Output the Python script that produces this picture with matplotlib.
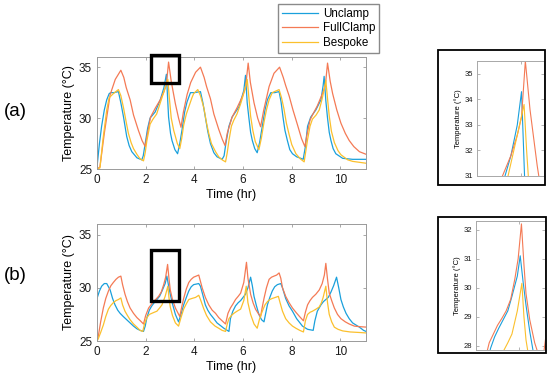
import matplotlib
matplotlib.use("Agg")
import matplotlib.pyplot as plt
from matplotlib.patches import Rectangle

plt.rcParams['font.family'] = ['Liberation Sans', 'DejaVu Sans']

# ---- colours ----
C_UN = '#1AA0DC'
C_FC = '#F47A55'
C_BE = '#FBC02D'

# ---- (a) top panel ----
a_un_t = [0.0, 0.1, 0.19, 0.3, 0.4, 0.5, 0.56, 0.7, 0.88, 0.98, 1.09, 1.22, 1.32, 1.43, 1.64, 1.84,
          1.9, 1.98, 2.08, 2.18, 2.39, 2.6, 2.75, 2.85, 2.9, 2.94, 3.02, 3.08, 3.2, 3.31,
          3.4, 3.49, 3.6, 3.7, 3.84, 4.0, 4.25, 4.35, 4.45, 4.55, 4.66, 4.8, 4.93, 5.14,
          5.22, 5.3, 5.42, 5.55, 5.83, 6.03, 6.1, 6.17, 6.24, 6.31, 6.38, 6.48, 6.58,
          6.68, 6.79, 6.9, 7.0, 7.14, 7.3, 7.48, 7.56, 7.64, 7.72, 7.82, 7.92, 8.03, 8.2, 8.37, 8.47,
          8.56, 8.65, 8.78, 8.99, 9.2, 9.29, 9.33, 9.4, 9.47, 9.54, 9.61, 9.7, 9.81, 10.09, 10.5, 11.1]
a_un_T = [25.2, 27.5, 29.2, 30.8, 31.8, 32.4, 32.5, 32.5, 32.6, 31.5, 30.1, 28.2, 27.3, 26.7, 26.1, 25.9,
          26.3, 27.5, 29.0, 30.0, 30.6, 31.8, 33.0, 34.3, 32.0, 30.1, 28.5, 27.8, 26.9, 26.5,
          27.5, 28.8, 30.6, 31.6, 32.5, 32.5, 32.6, 31.5, 30.1, 28.7, 27.5, 26.6, 26.2, 25.95,
          26.3, 27.6, 29.2, 30.1, 31.1, 32.7, 34.2, 31.5, 30.0, 28.6, 27.8, 27.0, 26.6,
          27.6, 29.2, 30.8, 31.8, 32.5, 32.5, 32.6, 31.6, 30.1, 28.8, 27.8, 26.9, 26.5, 26.2, 26.05, 25.95,
          27.2, 29.2, 30.1, 30.8, 31.8, 33.2, 34.1, 31.7, 30.0, 28.6, 27.8, 27.0, 26.5, 26.05, 25.95, 25.95]

a_fc_t = [0.0, 0.12, 0.3, 0.54, 0.75, 0.98, 1.1, 1.2, 1.36, 1.5, 1.7, 1.85, 1.98,
          2.05, 2.2, 2.4, 2.6, 2.75, 2.85, 2.94, 3.05, 3.22, 3.35, 3.45,
          3.55, 3.7, 3.85, 4.05, 4.25, 4.4, 4.5, 4.66, 4.8, 5.0, 5.15, 5.26,
          5.35, 5.55, 5.75, 5.97, 6.1, 6.21, 6.3, 6.45, 6.6, 6.72,
          6.85, 7.07, 7.27, 7.5, 7.65, 7.75, 7.89, 8.05, 8.24, 8.4, 8.54,
          8.62, 8.75, 8.85, 9.05, 9.26, 9.38, 9.47, 9.58, 9.68, 9.85, 10.02, 10.2, 10.36, 10.55, 10.78, 11.1]
a_fc_T = [25.0, 25.2, 28.5, 32.3, 33.8, 34.7, 34.0, 33.0, 31.8, 30.3, 28.8, 27.8, 27.2,
          28.2, 30.1, 31.0, 31.8, 32.6, 33.3, 35.5, 33.6, 31.4, 30.0, 29.1,
          30.6, 32.3, 33.5, 34.5, 35.0, 34.0, 33.1, 31.9, 30.4, 28.9, 27.9, 27.3,
          28.5, 30.1, 31.0, 32.1, 33.0, 35.4, 33.5, 31.5, 30.0, 29.15,
          30.8, 33.1, 34.4, 35.0, 34.0, 33.2, 32.2, 30.8, 29.3, 28.0, 27.2,
          28.3, 29.8, 30.3, 31.2, 32.4, 33.2, 35.4, 33.6, 32.4, 30.8, 29.5, 28.5, 27.8, 27.2, 26.7, 26.4]

a_be_t = [0.0, 0.12, 0.25, 0.4, 0.5, 0.67, 0.88, 0.98, 1.09, 1.2, 1.29, 1.4, 1.5, 1.65, 1.77, 1.91,
          1.98, 2.05, 2.18, 2.3, 2.45, 2.6, 2.75, 2.91, 2.97, 3.05, 3.15, 3.22, 3.3, 3.4,
          3.48, 3.56, 3.67, 3.77, 3.9, 3.97, 4.14, 4.25, 4.39, 4.5, 4.59, 4.7, 4.87, 5.0, 5.14, 5.28,
          5.35, 5.42, 5.52, 5.62, 5.75, 5.9, 6.05, 6.17, 6.24, 6.31, 6.4, 6.5, 6.65,
          6.75, 6.86, 6.96, 7.07, 7.2, 7.48, 7.58, 7.68, 7.78, 7.89, 8.0, 8.17, 8.35, 8.51,
          8.58, 8.65, 8.75, 8.85, 9.0, 9.13, 9.25, 9.33, 9.4, 9.47, 9.54, 9.63, 9.75, 9.9, 10.02,
          10.3, 10.5, 11.1]
a_be_T = [25.0, 25.1, 28.0, 30.8, 32.0, 32.4, 32.8, 32.2, 31.0, 29.6, 28.5, 27.6, 27.0, 26.4, 26.0, 25.8,
          26.6, 27.8, 29.4, 29.9, 30.4, 31.5, 32.6, 33.8, 32.0, 30.0, 28.8, 28.2, 27.5, 27.0,
          28.0, 29.3, 30.4, 31.1, 32.0, 32.4, 32.8, 32.2, 31.0, 29.5, 28.5, 27.5, 26.7, 26.2, 25.9, 25.7,
          26.6, 27.8, 29.2, 29.8, 30.4, 31.4, 32.6, 33.8, 32.0, 30.2, 28.8, 27.7, 26.9,
          28.0, 29.6, 30.8, 31.8, 32.5, 32.8, 32.0, 30.9, 29.5, 28.4, 27.4, 26.5, 26.0, 25.7,
          26.8, 27.9, 29.2, 29.9, 30.3, 30.8, 31.9, 32.8, 33.7, 31.9, 30.2, 28.7, 27.6, 26.8, 26.4,
          25.9, 25.75, 25.55]

# ---- (b) bottom panel ----
b_un_t = [0.0, 0.1, 0.19, 0.3, 0.4, 0.47, 0.54, 0.64, 0.74, 0.85, 0.95, 1.08, 1.22, 1.36, 1.5, 1.64, 1.77, 1.91,
          1.98, 2.05, 2.15, 2.25, 2.35, 2.46, 2.57, 2.67, 2.8, 2.87, 2.94, 3.01, 3.1, 3.22, 3.35,
          3.45, 3.56, 3.67, 3.77, 3.87, 3.97, 4.18, 4.25, 4.35, 4.45, 4.55, 4.66, 4.8, 4.93, 5.1, 5.21, 5.35, 5.42,
          5.48, 5.58, 5.69, 5.8, 5.9, 6.0, 6.1, 6.2, 6.31, 6.38, 6.45, 6.55, 6.65, 6.76, 6.86,
          6.93, 7.0, 7.1, 7.2, 7.3, 7.41, 7.55, 7.62, 7.75, 7.89, 8.03, 8.2, 8.44, 8.65, 8.88,
          8.95, 9.05, 9.2, 9.3, 9.4, 9.5, 9.61, 9.72, 9.84, 9.93, 10.02, 10.12, 10.23, 10.36, 10.5,
          10.64, 10.78, 10.95, 11.1]
b_un_T = [29.0, 29.7, 30.15, 30.4, 30.4, 30.1, 29.8, 29.0, 28.4, 27.9, 27.6, 27.3, 27.0, 26.7, 26.4, 26.15, 26.0, 25.9,
          26.4, 27.2, 27.9, 28.3, 28.6, 28.9, 29.2, 29.7, 30.4, 31.1, 30.2, 29.4, 28.5, 27.5, 26.8,
          27.5, 28.4, 29.1, 29.7, 30.1, 30.3, 30.4, 30.15, 29.3, 28.4, 27.9, 27.5, 27.1, 26.7, 26.4, 26.2, 26.0, 25.9,
          27.1, 27.8, 28.3, 28.6, 28.8, 29.1, 29.4, 30.0, 31.0, 30.2, 29.2, 28.3, 27.5, 27.0, 26.8,
          27.6, 28.4, 29.1, 29.7, 30.1, 30.3, 30.4, 30.0, 29.0, 28.3, 27.8, 27.1, 26.4, 26.1, 26.0,
          26.9, 27.8, 28.4, 28.7, 28.9, 29.1, 29.6, 30.2, 31.0, 30.0, 28.9, 28.2, 27.6, 27.1, 26.7,
          26.5, 26.3, 26.0, 25.85]

b_fc_t = [0.0, 0.05, 0.15, 0.26, 0.36, 0.47, 0.57, 0.67, 0.78, 0.88, 0.98, 1.05, 1.15, 1.25, 1.36, 1.5, 1.64, 1.78, 1.91,
          2.0, 2.12, 2.22, 2.32, 2.43, 2.53, 2.64, 2.74, 2.82, 2.9, 2.96, 3.01, 3.1, 3.22, 3.4,
          3.48, 3.56, 3.67, 3.77, 3.87, 3.97, 4.18, 4.25, 4.32, 4.45, 4.59, 4.73, 4.87, 5.0, 5.14, 5.28,
          5.38, 5.48, 5.59, 5.69, 5.8, 5.9, 6.03, 6.14, 6.2, 6.31, 6.41, 6.51, 6.62, 6.72,
          6.79, 6.86, 6.96, 7.07, 7.17, 7.27, 7.38, 7.48, 7.55, 7.62, 7.75, 7.89, 8.03, 8.17, 8.32, 8.48,
          8.56, 8.65, 8.75, 8.85, 8.99, 9.13, 9.25, 9.34, 9.4, 9.47, 9.54, 9.64, 9.75, 9.88, 10.02, 10.2,
          10.36, 10.57, 10.78, 11.1]
b_fc_T = [25.1, 25.4, 26.8, 28.1, 29.0, 29.7, 30.2, 30.5, 30.8, 31.0, 31.1, 30.3, 29.4, 28.7, 28.1, 27.6, 27.2, 26.9, 26.6,
          27.4, 28.1, 28.4, 28.7, 28.95, 29.2, 29.6, 30.3, 31.0, 32.2, 30.8, 29.8, 28.9, 28.1, 27.3,
          28.2, 29.0, 29.9, 30.5, 30.8, 31.0, 31.2, 30.6, 30.0, 29.1, 28.4, 27.9, 27.6, 27.2, 26.9, 26.6,
          27.6, 28.1, 28.5, 28.9, 29.2, 29.5, 30.5, 32.4, 30.9, 29.4, 28.6, 28.0, 27.6, 27.3,
          28.2, 29.0, 30.0, 30.8, 31.0, 31.1, 31.2, 31.4, 30.9, 30.0, 29.2, 28.6, 28.1, 27.7, 27.3, 26.9,
          27.7, 28.4, 28.8, 29.1, 29.4, 29.8, 30.4, 31.2, 32.3, 30.8, 29.5, 28.8, 28.1, 27.5, 27.1, 26.8,
          26.6, 26.4, 26.35, 26.3]

b_be_t = [0.0, 0.05, 0.15, 0.26, 0.36, 0.47, 0.57, 0.67, 0.78, 0.88, 0.98, 1.05, 1.15, 1.25, 1.36, 1.5, 1.64, 1.77, 1.88,
          1.95, 2.05, 2.15, 2.25, 2.35, 2.46, 2.57, 2.67, 2.8, 2.91, 2.96, 3.01, 3.1, 3.22, 3.35,
          3.45, 3.56, 3.67, 3.77, 3.9, 4.05, 4.18, 4.25, 4.39, 4.5, 4.66, 4.85, 5.0, 5.14, 5.28,
          5.35, 5.42, 5.52, 5.62, 5.75, 5.9, 6.03, 6.13, 6.2, 6.31, 6.45, 6.58,
          6.68, 6.79, 6.9, 7.0, 7.1, 7.2, 7.33, 7.45, 7.52, 7.62, 7.75, 7.89, 8.03, 8.17, 8.33, 8.48,
          8.56, 8.65, 8.75, 8.85, 9.0, 9.13, 9.22, 9.29, 9.4, 9.47, 9.54, 9.64, 9.75, 9.9, 10.09,
          10.4, 10.78, 11.1]
b_be_T = [25.0, 25.2, 25.8, 26.5, 27.3, 28.0, 28.35, 28.6, 28.8, 28.9, 29.05, 28.4, 27.8, 27.4, 27.0, 26.6, 26.3, 26.0, 25.9,
          26.6, 27.2, 27.5, 27.6, 27.7, 27.8, 28.1, 28.4, 29.2, 30.15, 29.0, 28.2, 27.4, 26.7, 26.4,
          27.2, 28.0, 28.5, 28.9, 29.0, 29.1, 29.3, 28.9, 28.0, 27.4, 26.8, 26.4, 26.2, 26.0, 25.9,
          26.6, 27.1, 27.4, 27.6, 27.8, 28.0, 28.8, 30.15, 28.6, 27.5, 26.6, 26.2,
          27.1, 27.8, 28.4, 28.7, 28.9, 29.0, 29.1, 29.2, 28.6, 27.8, 27.1, 26.7, 26.4, 26.2, 26.0, 25.85,
          26.9, 27.5, 27.7, 27.8, 28.0, 28.2, 28.6, 29.1, 30.15, 28.6, 27.5, 26.8, 26.3, 26.1, 25.95,
          25.85, 25.8, 25.75]

series_labels = ['Unclamp', 'FullClamp', 'Bespoke']
x_ticks = [0, 2, 4, 6, 8, 10]
y_ticks = [25, 30, 35]

W, H = 550.0, 384.0


def frac(x0, y0, x1, y1):
    # pixel box (top-left origin) -> figure fraction rect
    return [x0 / W, 1 - y1 / H, (x1 - x0) / W, (y1 - y0) / H]


def style_axes(ax, spine_col='#9a9a9a', size=8.5, length=2.5, pad=3.5):
    for s in ax.spines.values():
        s.set_color(spine_col)
        s.set_linewidth(0.7)
    ax.tick_params(direction='in', top=True, right=True, length=length, width=0.6,
                   color=spine_col, labelsize=size, labelcolor='#1a1a1a', pad=pad)


def draw_series(ax, data, lw=0.9):
    lines = []
    for (t, T), c in zip(data, [C_UN, C_FC, C_BE]):
        ln, = ax.plot(t, T, color=c, lw=lw, solid_joinstyle='round')
        lines.append(ln)
    return lines


fig = plt.figure(figsize=(5.5, 3.84), dpi=100)

top_data = [(a_un_t, a_un_T), (a_fc_t, a_fc_T), (a_be_t, a_be_T)]
bot_data = [(b_un_t, b_un_T), (b_fc_t, b_fc_T), (b_be_t, b_be_T)]

# main panels
ax1 = fig.add_axes(frac(97, 57, 366, 169))
ax2 = fig.add_axes(frac(97, 224, 366, 341))
for ax, data in [(ax1, top_data), (ax2, bot_data)]:
    lines = draw_series(ax, data)
    ax.set_xlim(0, 11.05)
    ax.set_ylim(25, 36)
    ax.set_xticks(x_ticks)
    ax.set_yticks(y_ticks)
    style_axes(ax)
    ax.set_xlabel('Time (hr)', fontsize=9, labelpad=2)
    ax.set_ylabel('Temperature (°C)', fontsize=9, labelpad=3)

ax1.add_patch(Rectangle((2.23, 33.46), 1.12, 2.74, fill=False, ec='black', lw=2.4, clip_on=False, zorder=5))
ax2.add_patch(Rectangle((2.23, 28.8), 1.12, 4.8, fill=False, ec='black', lw=2.4, clip_on=False, zorder=5))

fig.text(15 / W, 1 - 112 / H, '(a)', fontsize=13.5, ha='center', va='center')
fig.text(15 / W, 1 - 276 / H, '(b)', fontsize=13.5, ha='center', va='center')

fig.legend(lines, series_labels, loc='upper left', bbox_to_anchor=(278 / W, 1 - 4 / H),
           bbox_transform=fig.transFigure, fontsize=8.4, frameon=True, fancybox=False,
           edgecolor='#8a8a8a', framealpha=1, borderaxespad=0, handlelength=3.1,
           handletextpad=0.4, labelspacing=0.2, borderpad=0.35)

# insets
ins_a = fig.add_axes(frac(477, 61, 544, 176))
draw_series(ins_a, top_data, lw=0.8)
ins_a.set_xlim(1.8, 3.38)
ins_a.set_ylim(31, 35.5)
ins_a.set_yticks([31, 32, 33, 34, 35])

ins_b = fig.add_axes(frac(476, 221, 545, 350))
draw_series(ins_b, bot_data, lw=0.8)
ins_b.set_xlim(1.8, 3.47)
ins_b.set_ylim(27.85, 32.3)
ins_b.set_yticks([28, 29, 30, 31, 32])

for ins in (ins_a, ins_b):
    ins.set_xticks([2.83])
    ins.set_xticklabels([])
    style_axes(ins, spine_col='#a8a8a8', size=5.5, length=2, pad=2.5)
    ins.set_ylabel('Temperature (°C)', fontsize=5.5, labelpad=2)

for box in [(438, 50, 545, 185), (438, 217, 546, 353)]:
    fig.add_artist(Rectangle((box[0] / W, 1 - box[3] / H), (box[2] - box[0]) / W,
                             (box[3] - box[1]) / H, transform=fig.transFigure,
                             fill=False, ec='black', lw=1.3))

fig.savefig('out.png', dpi=100)
